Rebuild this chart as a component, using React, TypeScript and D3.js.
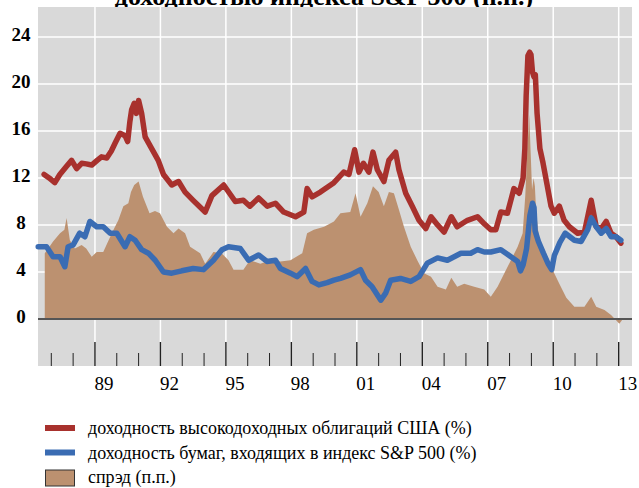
import React from 'react';
import * as d3 from 'd3';

type Pt = [number, number];

// доходность высокодоходных облигаций США (%)
const highYield: Pt[] = [
  [1986.67, 12.3], [1986.9, 12.0], [1987.16, 11.6], [1987.39, 12.3], [1987.7, 13.0], [1987.93, 13.5],
  [1988.16, 12.8], [1988.39, 13.25], [1988.6, 13.2], [1988.85, 13.1], [1989.1, 13.5], [1989.3, 13.8],
  [1989.54, 13.7], [1989.75, 14.3], [1989.92, 14.95], [1990.15, 15.8], [1990.38, 15.6], [1990.5, 15.1],
  [1990.6, 16.8], [1990.68, 17.8], [1990.8, 18.35], [1990.9, 17.5], [1991.0, 18.6], [1991.14, 17.5],
  [1991.3, 15.5], [1991.6, 14.5], [1991.9, 13.5], [1992.14, 12.3], [1992.52, 11.4], [1992.83, 11.7],
  [1993.13, 10.8], [1993.5, 10.1], [1994.05, 9.1], [1994.36, 10.5], [1994.9, 11.4], [1995.43, 10.0],
  [1995.8, 10.1], [1996.1, 9.6], [1996.5, 10.3], [1996.9, 9.6], [1997.27, 9.85], [1997.65, 9.1],
  [1998.19, 8.7], [1998.57, 9.1], [1998.72, 11.1], [1998.95, 10.4], [1999.33, 10.8], [1999.95, 11.6],
  [2000.4, 12.5], [2000.64, 12.3], [2000.9, 14.4], [2001.1, 12.5], [2001.3, 13.25], [2001.55, 12.5],
  [2001.74, 14.2], [2001.94, 12.7], [2002.24, 11.7], [2002.47, 13.5], [2002.78, 14.2], [2002.93, 12.7],
  [2003.24, 10.7], [2003.54, 9.6], [2003.85, 8.4], [2004.16, 7.7], [2004.4, 8.7], [2004.7, 8.0],
  [2005.0, 7.4], [2005.33, 8.7], [2005.6, 7.85], [2006.07, 8.4], [2006.53, 8.7], [2006.84, 8.1],
  [2007.14, 7.6], [2007.37, 7.6], [2007.6, 9.1], [2007.9, 9.0], [2008.2, 11.1], [2008.44, 10.7],
  [2008.62, 12.0], [2008.7, 14.5], [2008.76, 19.0], [2008.84, 22.4], [2008.92, 22.7], [2008.98, 22.5],
  [2009.05, 21.0], [2009.12, 20.6], [2009.18, 20.8], [2009.26, 17.5], [2009.39, 14.5], [2009.53, 13.3],
  [2009.71, 11.5], [2009.9, 9.6], [2010.05, 9.0], [2010.28, 9.6], [2010.5, 8.4], [2010.74, 7.85],
  [2011.12, 7.3], [2011.43, 7.4], [2011.74, 10.1], [2011.97, 7.85], [2012.2, 7.7], [2012.43, 8.3],
  [2012.65, 7.3], [2012.88, 7.0], [2013.1, 6.45],
];

// доходность бумаг, входящих в индекс S&P 500 (%)
const spxYield: Pt[] = [
  [1986.4, 6.15], [1986.78, 6.15], [1987.08, 5.3], [1987.4, 5.3], [1987.62, 4.45], [1987.77, 6.15],
  [1988.0, 6.3], [1988.3, 7.3], [1988.54, 7.0], [1988.77, 8.3], [1989.08, 7.85], [1989.38, 7.85],
  [1989.7, 7.3], [1990.0, 7.3], [1990.38, 6.15], [1990.6, 7.0], [1990.84, 6.7], [1991.14, 5.9],
  [1991.45, 5.6], [1991.76, 5.0], [1992.14, 4.0], [1992.52, 3.9], [1992.98, 4.1], [1993.5, 4.3],
  [1993.97, 4.2], [1994.43, 5.0], [1994.82, 5.9], [1995.12, 6.15], [1995.66, 6.0], [1996.04, 5.0],
  [1996.5, 5.45], [1996.88, 4.9], [1997.27, 5.0], [1997.5, 4.3], [1997.96, 3.9], [1998.26, 3.6],
  [1998.65, 4.3], [1998.95, 3.2], [1999.26, 2.9], [1999.64, 3.1], [1999.95, 3.3], [2000.25, 3.45],
  [2000.7, 3.75], [2001.17, 4.2], [2001.4, 3.3], [2001.7, 2.75], [2002.1, 1.6], [2002.32, 2.2],
  [2002.55, 3.3], [2003.0, 3.45], [2003.47, 3.2], [2003.85, 3.6], [2004.23, 4.75], [2004.7, 5.2],
  [2005.15, 5.0], [2005.77, 5.6], [2006.22, 5.6], [2006.53, 5.9], [2006.84, 5.7], [2007.14, 5.7],
  [2007.6, 5.9], [2008.06, 5.3], [2008.37, 4.9], [2008.5, 4.1], [2008.62, 4.6], [2008.78, 6.0],
  [2008.93, 8.8], [2009.05, 9.85], [2009.12, 9.5], [2009.17, 7.5], [2009.32, 6.6], [2009.55, 5.6],
  [2009.77, 4.7], [2009.93, 4.2], [2010.05, 5.4], [2010.3, 6.5], [2010.55, 7.3], [2010.97, 6.7],
  [2011.28, 6.6], [2011.58, 7.6], [2011.74, 8.6], [2011.97, 7.85], [2012.2, 7.3], [2012.43, 7.7],
  [2012.65, 7.0], [2012.88, 7.0], [2013.1, 6.7],
];

// спрэд (п.п.)
const spread: Pt[] = [
  [1986.7, 5.6], [1986.9, 6.1], [1987.08, 6.6], [1987.4, 7.3], [1987.6, 7.6], [1987.7, 8.6],
  [1987.85, 6.7], [1988.08, 6.0], [1988.39, 6.3], [1988.6, 6.0], [1988.85, 5.3], [1989.08, 5.7],
  [1989.38, 5.7], [1989.6, 6.6], [1989.85, 7.6], [1990.07, 8.4], [1990.3, 9.6], [1990.53, 9.85],
  [1990.65, 10.8], [1990.8, 11.4], [1991.0, 11.7], [1991.2, 10.4], [1991.5, 9.0], [1991.75, 9.2],
  [1991.98, 9.0], [1992.3, 7.85], [1992.6, 7.3], [1992.83, 7.7], [1993.13, 7.3], [1993.36, 6.15],
  [1993.82, 5.6], [1994.05, 4.7], [1994.43, 5.7], [1994.8, 5.6], [1995.12, 5.0], [1995.35, 4.2],
  [1995.8, 4.2], [1996.1, 5.0], [1996.58, 4.7], [1997.04, 5.0], [1997.5, 4.9], [1997.96, 5.0],
  [1998.5, 5.6], [1998.72, 7.3], [1999.03, 7.6], [1999.5, 7.85], [1999.95, 8.3], [2000.25, 9.0],
  [2000.7, 9.1], [2000.94, 10.7], [2001.17, 8.7], [2001.48, 9.85], [2001.74, 11.3], [2002.0, 10.8],
  [2002.24, 9.6], [2002.47, 10.8], [2002.7, 10.7], [2002.93, 9.3], [2003.16, 7.85], [2003.47, 6.15],
  [2003.77, 5.0], [2004.08, 3.9], [2004.4, 3.6], [2004.7, 2.75], [2005.08, 2.5], [2005.33, 3.5],
  [2005.6, 2.75], [2005.92, 3.0], [2006.38, 2.75], [2006.84, 2.5], [2007.14, 1.9], [2007.45, 2.75],
  [2007.76, 3.9], [2008.06, 5.0], [2008.37, 6.15], [2008.6, 7.3], [2008.72, 10.5], [2008.82, 14.5],
  [2008.9, 17.4], [2008.97, 14.0], [2009.03, 11.0], [2009.1, 12.0], [2009.16, 11.3], [2009.22, 9.0],
  [2009.36, 6.7], [2009.67, 5.6], [2009.97, 4.2], [2010.28, 3.0], [2010.6, 1.8], [2010.97, 1.05],
  [2011.43, 1.05], [2011.6, 1.5], [2011.74, 1.9], [2011.97, 1.05], [2012.35, 0.77], [2012.65, 0.35],
  [2012.88, -0.1], [2013.03, -0.4], [2013.15, -0.1],
];

const yTicks = [0, 4, 8, 12, 16, 20, 24];
const labelYears = [1989, 1992, 1995, 1998, 2001, 2004, 2007, 2010, 2013];
const labelTexts = ['89', '92', '95', '98', '01', '04', '07', '10', '13'];
const minorYears = d3.range(1987, 2014);

const legendItems = [
  { label: 'доходность высокодоходных облигаций США (%)', kind: 'line', color: '#a8312d' },
  { label: 'доходность бумаг, входящих в индекс S&P 500 (%)', kind: 'line', color: '#3a6cb3' },
  { label: 'спрэд (п.п.)', kind: 'area', color: '#bc9170' },
];

const W = 639;
const H = 488;
const plot = { left: 38, right: 632, top: 7, bottom: 366 };
const serif = '"Liberation Serif", "Times New Roman", serif';

export default function App() {
  const x = d3.scaleLinear().domain([1986.39, 2013.61]).range([plot.left, plot.right]);
  const y = d3.scaleLinear().domain([-4, 26.55]).range([plot.bottom, plot.top]);

  const line = d3.line<Pt>().x(d => x(d[0])).y(d => y(d[1]));
  const area = d3.area<Pt>().x(d => x(d[0])).y0(y(0)).y1(d => y(d[1]));

  return (
    <div style={{ position: 'absolute', left: 0, top: 0 }}>
      <svg width={W} height={H} style={{ display: 'block', background: '#fff' }}>
        {/* title: only the lower part of its last line is visible, as in the source */}
        <text x={324} y={5} textAnchor="middle" fontFamily={serif} fontWeight="bold" fontSize={26} fill="#000">
          доходностью индекса S&amp;P 500 (п.п.)
        </text>

        <rect x={plot.left} y={plot.top} width={plot.right - plot.left} height={plot.bottom - plot.top} fill="#d9d9d9" />

        {yTicks.map(t => (
          <line key={'gy' + t} x1={plot.left} x2={plot.right} y1={y(t)} y2={y(t)} stroke="#fff" strokeWidth={1.5} />
        ))}
        {labelYears.map(yr => (
          <line key={'gx' + yr} x1={x(yr)} x2={x(yr)} y1={plot.top} y2={plot.bottom} stroke="#fff" strokeWidth={1.5} />
        ))}

        <path d={area(spread) || ''} fill="#bc9170" />

        <line x1={plot.left} x2={plot.right} y1={y(0)} y2={y(0)} stroke="#555" strokeWidth={2} />

        {minorYears.map(yr => {
          const major = labelYears.includes(yr);
          return (
            <line key={'tk' + yr} x1={x(yr)} x2={x(yr)} y1={major ? 342 : 353} y2={plot.bottom}
              stroke="#222" strokeWidth={major ? 1.4 : 1} />
          );
        })}

        <path d={line(highYield) || ''} fill="none" stroke="#a8312d" strokeWidth={5.5} strokeLinejoin="round" strokeLinecap="round" />
        <path d={line(spxYield) || ''} fill="none" stroke="#3a6cb3" strokeWidth={5.5} strokeLinejoin="round" strokeLinecap="round" />

        {yTicks.map(t => (
          <text key={'yl' + t} x={21} y={y(t) + 4} textAnchor="middle" fontFamily={serif} fontWeight="bold" fontSize={19} fill="#000">
            {t}
          </text>
        ))}
        {labelYears.map((yr, i) => (
          <text key={'xl' + yr} x={x(yr) + 9} y={390} textAnchor="middle" fontFamily={serif} fontSize={19} fill="#000">
            {labelTexts[i]}
          </text>
        ))}

        {legendItems.map((item, i) => {
          const cy = 428 + i * 24.5;
          return (
            <g key={item.label}>
              {item.kind === 'line'
                ? <line x1={45} x2={75} y1={cy} y2={cy} stroke={item.color} strokeWidth={6} />
                : <rect x={45.5} y={cy - 7} width={29} height={16} fill={item.color} stroke="#333" strokeWidth={1} />}
              <text x={88} y={cy + 6} fontFamily={serif} fontSize={18} fill="#000">{item.label}</text>
            </g>
          );
        })}
      </svg>
    </div>
  );
}
